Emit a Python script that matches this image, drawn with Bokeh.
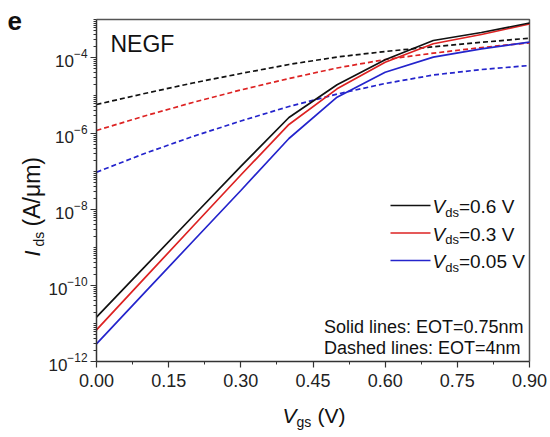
import math
from bokeh.plotting import figure
from bokeh.models import Range1d, FixedTicker, PrintfTickFormatter, Label
from bokeh.embed import file_html
from bokeh.resources import INLINE

# ---- data ----
vgs = [0.0, 0.1, 0.2, 0.3, 0.4, 0.5, 0.6, 0.7, 0.8, 0.9]
# solid lines: EOT = 0.75 nm
ids_solid_06 = [1.47e-11, 3.08e-10, 6.55e-9, 1.36e-7, 2.64e-6, 1.91e-5, 8.69e-5, 2.80e-4, 4.55e-4, 8.09e-4]
ids_solid_03 = [6.82e-12, 1.56e-10, 3.57e-9, 8.09e-8, 1.73e-6, 1.50e-5, 7.52e-5, 2.30e-4, 4.03e-4, 7.62e-4]
ids_solid_005 = [2.92e-12, 6.47e-11, 1.44e-9, 3.16e-8, 7.38e-7, 9.02e-6, 4.10e-5, 1.02e-4, 1.69e-4, 2.53e-4]
# dashed lines: EOT = 4 nm
ids_dash_06 = [5.79e-6, 1.13e-5, 2.13e-5, 3.79e-5, 6.55e-5, 1.03e-4, 1.44e-4, 1.91e-4, 2.51e-4, 3.22e-4]
ids_dash_03 = [1.20e-6, 2.89e-6, 6.55e-6, 1.40e-5, 2.80e-5, 5.30e-5, 8.85e-5, 1.30e-4, 1.83e-4, 2.44e-4]
ids_dash_005 = [9.59e-8, 2.98e-7, 8.34e-7, 2.13e-6, 5.14e-6, 1.09e-5, 2.07e-5, 3.46e-5, 4.83e-5, 6.15e-5]

x_ticks = [0.0, 0.15, 0.30, 0.45, 0.60, 0.75, 0.90]
y_tick_exps = [-12, -10, -8, -6, -4]
legend_vds = ["0.6", "0.3", "0.05"]

BLACK = "#111111"
RED = "#dd2222"
BLUE = "#2424cc"
FONT = "Liberation Sans"

# ---- layout: the frame fills the whole canvas; the plot box sits inside it ----
W, H = 550, 437
X_LEFT, X_RIGHT, Y_TOP, Y_BOTTOM = 96, 529, 19, 361
XMIN, XMAX = 0.0, 0.9
YMIN_EXP, YMAX_EXP = -12, -3
x_per_px = (XMAX - XMIN) / (X_RIGHT - X_LEFT)
dec_per_px = (YMAX_EXP - YMIN_EXP) / (Y_BOTTOM - Y_TOP)

x_range = Range1d(XMIN - X_LEFT * x_per_px, XMAX + (W - X_RIGHT) * x_per_px)
y_range = Range1d(10 ** (YMIN_EXP - (H - Y_BOTTOM) * dec_per_px), 10 ** (YMAX_EXP + Y_TOP * dec_per_px))

p = figure(frame_width=W, frame_height=H, x_range=x_range, y_range=y_range,
           y_axis_type="log", output_backend="svg", toolbar_location=None, title=None,
           min_border=0, min_border_left=0, min_border_right=0,
           min_border_top=0, min_border_bottom=0)
p.background_fill_color = "white"
p.border_fill_color = "white"
p.outline_line_color = None
p.xgrid.visible = False
p.ygrid.visible = False

# axes, drawn at the plot box edges
xa = p.xaxis[0]
xa.fixed_location = 10.0 ** YMIN_EXP
xa.bounds = (XMIN, XMAX)
xa.ticker = FixedTicker(ticks=x_ticks,
                        minor_ticks=[(a + b) / 2 for a, b in zip(x_ticks[:-1], x_ticks[1:])])
xa.formatter = PrintfTickFormatter(format="%.2f")
ya = p.yaxis[0]
ya.fixed_location = XMIN
ya.bounds = (10.0 ** YMIN_EXP, 10.0 ** YMAX_EXP)
minor = []
for e in range(YMIN_EXP, YMAX_EXP):
    for k in range(1, 10):
        minor.append(k * 10.0 ** e)
minor.append(10.0 ** YMAX_EXP)
ya.ticker = FixedTicker(ticks=[10.0 ** e for e in y_tick_exps], minor_ticks=minor)
for ax in (xa, ya):
    ax.axis_line_color = "#333333"
    ax.axis_line_width = 1.5
    ax.major_tick_line_color = "#333333"
    ax.minor_tick_line_color = "#333333"
    ax.major_tick_line_width = 1.2
    ax.minor_tick_line_width = 1
    ax.major_tick_in = 0
    ax.major_tick_out = 6
    ax.minor_tick_in = 0
    ax.minor_tick_out = 3
    ax.major_label_text_font = FONT
    ax.major_label_text_color = "#222222"
    ax.axis_label = None
xa.major_label_text_font_size = "18px"
xa.major_label_standoff = 6
ya.major_label_text_font_size = "17px"
ya.major_label_standoff = 3

# box outline (top and right edges)
p.line([XMIN, XMAX, XMAX], [10.0 ** YMAX_EXP, 10.0 ** YMAX_EXP, 10.0 ** YMIN_EXP],
       line_color="#555555", line_width=1.5)

# curves
series = [
    (ids_dash_06, BLACK, "5 3"), (ids_dash_03, RED, "5 3"), (ids_dash_005, BLUE, "5 3"),
    (ids_solid_005, BLUE, "solid"), (ids_solid_03, RED, "solid"), (ids_solid_06, BLACK, "solid"),
]
for vals, col, dash in series:
    p.line(vgs, vals, line_color=col, line_width=1.7, line_dash=dash)


def dx(px):
    return XMIN + (px - X_LEFT) * x_per_px


def dy(py):
    return 10 ** (YMIN_EXP + (Y_BOTTOM - py) * dec_per_px)


BASE_SHIFT = 0.28  # correction (in em) of where the rendered baseline lands


def lab(px, py, text, size, style="normal", align="left", angle=0.0, color="#111111"):
    # screen units: from the frame's (= canvas') bottom-left corner, y upward
    if angle:
        px = px - BASE_SHIFT * size
    else:
        py = py - BASE_SHIFT * size
    p.add_layout(Label(x=px, y=H - py, x_units="screen", y_units="screen",
                       text=text, text_font=FONT, text_font_size=f"{size}px",
                       text_font_style=style, text_align=align, text_baseline="alphabetic",
                       angle=angle, text_color=color))


# panel letter and NEGF
lab(7, 28, "e", 26, style="bold")
lab(110, 50, "NEGF", 23)

# legend
legend_cols = [BLACK, RED, BLUE]
for i, (vds, col) in enumerate(zip(legend_vds, legend_cols)):
    ly = 205 + i * 27.5
    p.line([dx(390), dx(430)], [dy(ly), dy(ly)], line_color=col, line_width=1.7)
    base = ly + 6.5
    lab(432, base, "V", 19, style="italic")
    lab(444.7, base + 4, "ds", 13)
    lab(458.4, base, "=" + vds + " V", 19)

# notes
lab(523, 332, "Solid lines: EOT=0.75nm", 18, align="right")
lab(520, 353, "Dashed lines: EOT=4nm", 18, align="right")

# x axis label
lab(282, 421, "V", 21, style="italic")
lab(296, 425, "gs", 14)
lab(317, 421, "(V)", 21)

# y axis label (rotated)
rot = math.pi / 2
lab(38, 256, "I", 22, style="italic", angle=rot)
lab(42, 246, "ds", 14, angle=rot)
lab(38, 226, "(A/\u03bcm)", 23, angle=rot)

open("out.html", "w").write(file_html(p, INLINE))
